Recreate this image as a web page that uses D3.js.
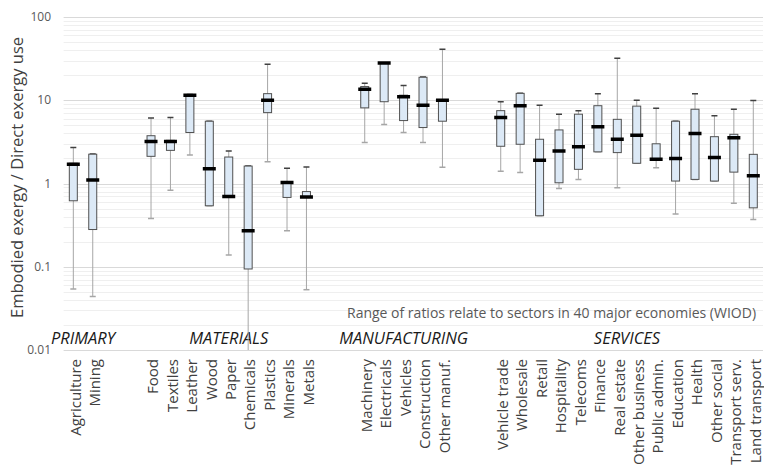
<!DOCTYPE html>
<html lang="en">
<head>
<meta charset="UTF-8">
<title>Embodied / direct exergy ratios by sector</title>
<script src="https://d3js.org/d3.v7.min.js"></script>
<style>
    body { margin: 0; background: #fff; }
    svg { font-family: "Open Sans", "DejaVu Sans", sans-serif; }
    .grid-major { stroke: #d9d9d9; stroke-width: 1; }
    .grid-minor { stroke: #efefef; stroke-width: 1; }
    .tick-label { font-size: 12px; fill: #595959; }
    .sector-label { font-size: 15px; fill: #404040; }
    .group-label { font-size: 16.5px; font-style: italic; fill: #1a1a1a; }
</style>
</head>
<body>
<svg width="764" height="466"></svg>
<script>
    // Sectors, their group, and box-plot stats (min, lower quartile, median, upper quartile, max)
    var groups = ["PRIMARY", "MATERIALS", "MANUFACTURING", "SERVICES"];
    var sectors = ["Agriculture", "Mining",
        "Food", "Textiles", "Leather", "Wood", "Paper", "Chemicals", "Plastics", "Minerals", "Metals",
        "Machinery", "Electricals", "Vehicles", "Construction", "Other manuf.",
        "Vehicle trade", "Wholesale", "Retail", "Hospitality", "Telecoms", "Finance", "Real estate",
        "Other business", "Public admin.", "Education", "Health", "Other social", "Transport serv.", "Land transport"];
    var sectorGroup = [0, 0,
        1, 1, 1, 1, 1, 1, 1, 1, 1,
        2, 2, 2, 2, 2,
        3, 3, 3, 3, 3, 3, 3, 3, 3, 3, 3, 3, 3, 3];
    var mins = [0.054, 0.044,
        0.38, 0.83, 2.2, 0.54, 0.138, 0.008, 1.83, 0.27, 0.053,
        3.1, 5.1, 4.1, 3.1, 1.57,
        1.4, 1.36, 0.41, 0.87, 1.12, 2.4, 0.89, 1.75, 1.55, 0.43, 1.12, 1.07, 0.58, 0.37];
    var q1s = [0.62, 0.28,
        2.12, 2.5, 4.1, 0.54, 0.69, 0.094, 7.1, 0.68, 0.68,
        8.1, 9.6, 5.7, 4.7, 5.6,
        2.8, 2.96, 0.41, 1.02, 1.48, 2.4, 2.35, 1.75, 1.93, 1.07, 1.12, 1.07, 1.37, 0.51];
    var medians = [1.7, 1.1,
        3.2, 3.2, 11.5, 1.5, 0.7, 0.27, 10, 1.03, 0.69,
        13.6, 28, 11, 8.7, 10,
        6.2, 8.6, 1.9, 2.45, 2.77, 4.8, 3.4, 3.8, 1.95, 2.0, 4.0, 2.05, 3.55, 1.24];
    var q3s = [1.75, 2.25,
        3.75, 3.3, 11.7, 5.6, 2.08, 1.62, 12, 1.05, 0.8,
        14.6, 28.3, 11.5, 18.9, 10.2,
        7.5, 12.1, 3.4, 4.4, 6.8, 8.6, 5.9, 8.5, 3.0, 5.6, 7.8, 3.65, 3.9, 2.24];
    var maxs = [2.7, 2.26,
        6.1, 6.2, 11.7, 5.6, 2.45, 1.62, 27, 1.52, 1.58,
        16, 28.3, 15, 19, 41,
        9.6, 12.1, 8.7, 6.8, 7.5, 12, 32, 10, 8.0, 5.6, 12, 6.5, 7.8, 9.9];
    var yTicks = [0.01, 0.1, 1, 10, 100];
    var note = "Range of ratios relate to sectors in 40 major economies (WIOD)";

    var svg = d3.select("svg");
    var plotLeft = 63.6, plotRight = 763, plotTop = 17, plotBottom = 350;

    // band slots: two empty slots between groups
    var slots = [];
    groups.forEach(function(g, gi) {
        if (gi > 0) { slots.push("_gap" + gi + "a"); slots.push("_gap" + gi + "b"); }
        sectors.forEach(function(s, i) { if (sectorGroup[i] === gi) slots.push(s); });
    });

    var x = d3.scaleBand().domain(slots).range([plotLeft, plotRight]);
    var y = d3.scaleLog().domain([0.01, 100]).range([plotBottom, plotTop]);

    var data = sectors.map(function(s, i) {
        return {name: s, group: sectorGroup[i], lo: mins[i], q1: q1s[i], med: medians[i], q3: q3s[i], hi: maxs[i]};
    });

    // Gridlines (major decades + minor 2..9)
    var minorTicks = [];
    yTicks.slice(0, -1).forEach(function(t) {
        for (var k = 2; k <= 9; k++) minorTicks.push(t * k);
    });
    svg.append("g").selectAll("line").data(minorTicks).enter().append("line")
        .attr("class", "grid-minor")
        .attr("x1", plotLeft).attr("x2", plotRight)
        .attr("y1", function(d) { return Math.round(y(d)) + 0.5; })
        .attr("y2", function(d) { return Math.round(y(d)) + 0.5; });
    svg.append("g").selectAll("line").data(yTicks).enter().append("line")
        .attr("class", "grid-major")
        .attr("x1", plotLeft).attr("x2", plotRight)
        .attr("y1", function(d) { return Math.round(y(d)) + 0.5; })
        .attr("y2", function(d) { return Math.round(y(d)) + 0.5; });

    // Y tick labels
    svg.append("g").selectAll("text").data(yTicks).enter().append("text")
        .attr("class", "tick-label")
        .attr("x", 51)
        .attr("y", function(d) { return y(d); })
        .attr("dy", "0.35em")
        .attr("text-anchor", "end")
        .text(function(d) { return d3.format("~g")(d); });

    // Y axis title
    svg.append("text")
        .attr("transform", "translate(17," + ((plotTop + plotBottom) / 2 - 6) + ") rotate(-90)")
        .attr("dy", "0.35em")
        .attr("text-anchor", "middle")
        .style("font-size", "16.5px")
        .style("fill", "#404040")
        .text("Embodied exergy / Direct exergy use");

    // Note
    svg.append("text")
        .attr("x", 347)
        .attr("y", y(0.028))
        .attr("dy", "0.35em")
        .style("font-size", "14px")
        .style("fill", "#595959")
        .text(note);

    // Group labels
    svg.append("g").selectAll("text").data(groups).enter().append("text")
        .attr("class", "group-label")
        .attr("x", function(g, gi) {
            var names = sectors.filter(function(s, i) { return sectorGroup[i] === gi; });
            return (x(names[0]) + x(names[names.length - 1]) + x.bandwidth()) / 2;
        })
        .attr("y", plotBottom - 6)
        .attr("text-anchor", "middle")
        .text(function(d) { return d; });

    // Sector labels
    svg.append("g").selectAll("text").data(sectors).enter().append("text")
        .attr("class", "sector-label")
        .attr("transform", function(d) {
            return "translate(" + (x(d) + x.bandwidth() / 2 + 2) + "," + (plotBottom + 9) + ") rotate(-90)";
        })
        .attr("dy", "0.35em")
        .attr("text-anchor", "end")
        .text(function(d) { return d; });

    // Box plots
    svg.append("clipPath").attr("id", "plot-clip")
        .append("rect").attr("x", plotLeft).attr("y", plotTop - 5)
        .attr("width", plotRight - plotLeft).attr("height", plotBottom - plotTop + 5);

    var boxW = 8, medW = 13, capW = 6;
    var box = svg.append("g").attr("clip-path", "url(#plot-clip)")
        .selectAll("g").data(data).enter().append("g")
        .attr("transform", function(d) { return "translate(" + (x(d.name) + x.bandwidth() / 2) + ",0)"; });

    box.append("line")
        .attr("x1", 0).attr("x2", 0)
        .attr("y1", function(d) { return y(d.hi); })
        .attr("y2", function(d) { return y(d.lo); })
        .attr("stroke", "#a6a6a6").attr("stroke-width", 1);

    box.append("line")
        .attr("x1", -capW / 2).attr("x2", capW / 2)
        .attr("y1", function(d) { return y(d.hi); })
        .attr("y2", function(d) { return y(d.hi); })
        .attr("stroke", "#404040").attr("stroke-width", 1.5);

    box.append("line")
        .attr("x1", -capW / 2).attr("x2", capW / 2)
        .attr("y1", function(d) { return y(d.lo); })
        .attr("y2", function(d) { return y(d.lo); })
        .attr("stroke", "#a6a6a6").attr("stroke-width", 1.5);

    box.append("rect")
        .attr("x", -boxW / 2)
        .attr("width", boxW)
        .attr("y", function(d) { return y(d.q3); })
        .attr("height", function(d) { return Math.max(1, y(d.q1) - y(d.q3)); })
        .attr("fill", "#dce9f6")
        .attr("stroke", "#505050")
        .attr("stroke-width", 1);

    box.append("line")
        .attr("x1", -medW / 2).attr("x2", medW / 2)
        .attr("y1", function(d) { return y(d.med); })
        .attr("y2", function(d) { return y(d.med); })
        .attr("stroke", "#000").attr("stroke-width", 3.5);
</script>
</body>
</html>
